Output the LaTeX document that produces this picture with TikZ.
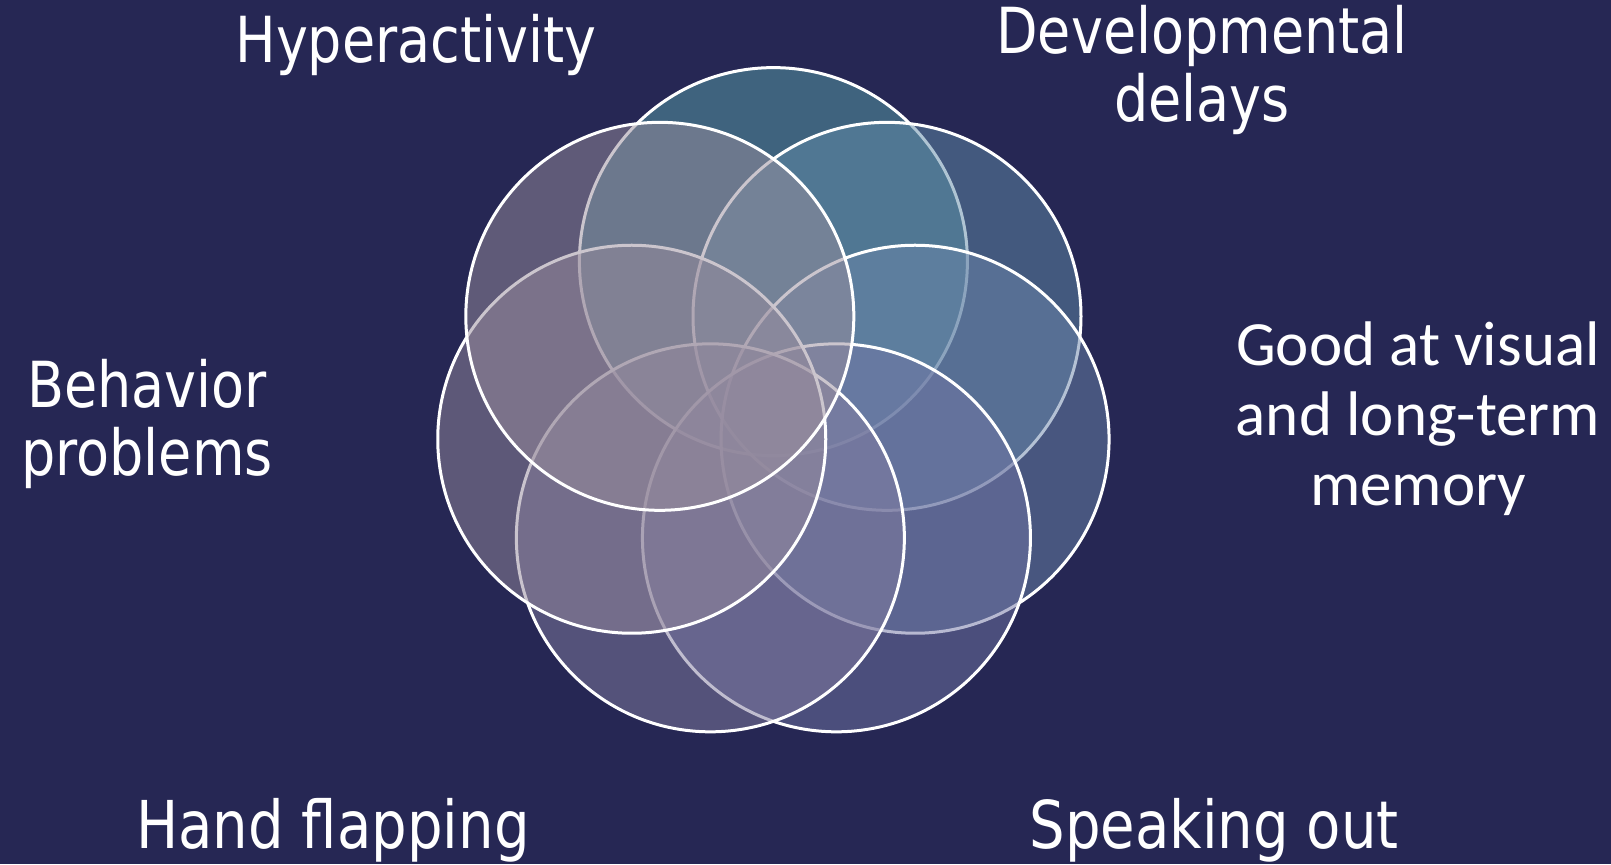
\documentclass[tikz,border=0pt]{standalone}
\usepackage{fontspec}
\usepackage{tikz}
\newfontfamily\labelfont{DejaVu Sans}[FakeStretch=0.85]
\newfontfamily\memfont{Carlito}
\definecolor{navybg}{RGB}{38,39,84}
\definecolor{petalA}{RGB}{89,159,168}
\definecolor{petalB}{RGB}{97,139,168}
\definecolor{petalC}{RGB}{107,133,170}
\definecolor{petalD}{RGB}{113,117,164}
\definecolor{petalE}{RGB}{131,125,160}
\definecolor{petalF}{RGB}{149,137,156}
\definecolor{petalG}{RGB}{153,141,156}
\tikzset {
    x=0.5pt,
    y=-0.5pt,
    petal/.style={circle, draw=white, line width=1.5pt, fill opacity=0.5,
        minimum size=194pt, inner sep=0pt},
    symptom/.style={text=white, anchor=base, inner sep=0pt, align=center,
        font=\labelfont\fontsize{31.75}{34}\selectfont},
    bigsymptom/.style={symptom, font=\labelfont\fontsize{33}{34}\selectfont}
}
\begin{document}
\begin{tikzpicture}
    \fill[navybg] (0,0) rectangle (1611,864);
    \useasboundingbox (0,0) rectangle (1611,864);
    \coordinate (ctr) at (773.4,406.9);

    % seven circles, clockwise from the top
    \foreach \c [count=\i from 0] in {petalA,petalB,petalC,petalD,petalE,petalF,petalG}
        \node[petal, fill=\c] (p\i) at ([shift={({\i*360/7-90}:145.3)}]ctr) {};

    % labels (anchored at the last baseline)
    \node[symptom] (hyper) at (416,62) {Hyperactivity};
    \node[symptom] (delays) at (1202,121) {Developmental\\delays};
    \node[symptom, font=\memfont\fontsize{31.5}{35}\selectfont] (memory) at (1418,505) {Good at visual\\and long-term\\memory};
    \node[bigsymptom] (speak) at (1214,848) {Speaking out};
    \node[bigsymptom] (hand) at (333,848) {Hand flapping};
    \node[symptom] (behave) at (147,475) {Behavior\\problems};
\end{tikzpicture}
\end{document}
